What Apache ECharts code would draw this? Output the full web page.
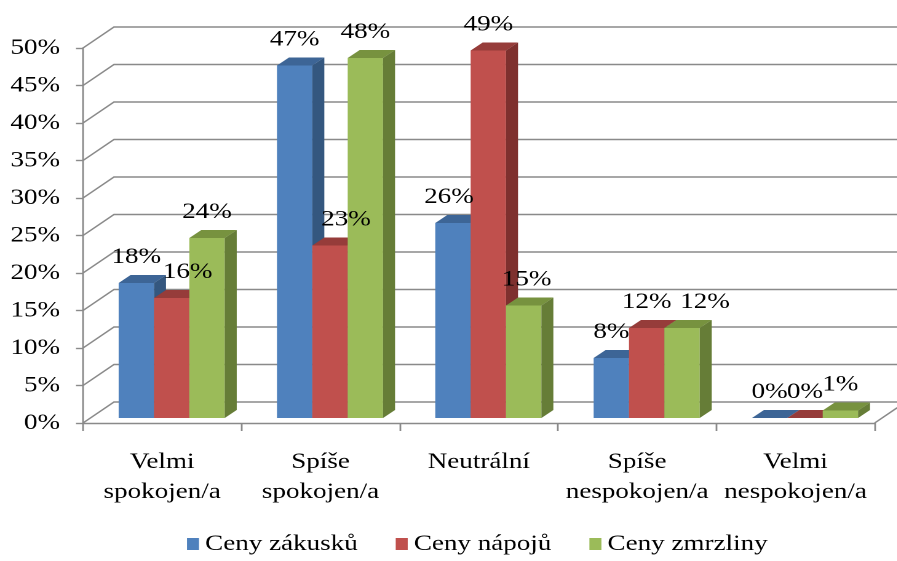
<!DOCTYPE html>
<html>
<head>
<meta charset="utf-8">
<script src="https://cdn.jsdelivr.net/npm/echarts@6/dist/echarts.min.js"></script>
<style>
  html, body { margin: 0; padding: 0; background: #fff; overflow: hidden; }
  #frame { width: 897px; height: 561px; overflow: hidden; }
  /* the chart is drawn narrower and widened, giving the wide serif lettering */
  #chart { height: 561px; transform-origin: 0 0; }
</style>
</head>
<body>
<div id="frame"><div id="chart"></div></div>
<script>
// Categories and survey results (percent)
const categories = ['Velmi\nspokojen/a', 'Spíše\nspokojen/a', 'Neutrální', 'Spíše\nnespokojen/a', 'Velmi\nnespokojen/a'];
const seriesNames = ['Ceny zákusků', 'Ceny nápojů', 'Ceny zmrzliny'];
const zakusky = [18, 47, 26, 8, 0];
const napoje = [16, 23, 49, 12, 0];
const zmrzliny = [24, 48, 15, 12, 1];
const yTicks = [0, 5, 10, 15, 20, 25, 30, 35, 40, 45, 50];

// Horizontal widening of the whole drawing
const SX = 1.23;
const WIDTH = 897, HEIGHT = 561;
const sx = v => v / SX;   // page pixels -> drawing pixels (horizontal only)

// Pseudo-3D look (in page pixels)
const WALL_DEPTH = [31, -21];   // back wall offset from the front plane
const BAR_SHIFT = [9.5, -5];    // bar front faces sit a little behind the front plane
const BAR_DEPTH = [12, -8];     // thickness of each prism
const GROUP_RATIO = 0.67;       // share of a category band used by the 3 bars
const FONT = '"Liberation Serif", "Times New Roman", serif';
const FONT_SIZE = 22;
const LINE = '#8a8a8a';

const palettes = [
  { front: '#4F81BD', top: '#3D6596', side: '#34577F' },
  { front: '#C0504D', top: '#963C3A', side: '#7E302E' },
  { front: '#9BBB59', top: '#77923F', side: '#667D37' }
];
// horizontal nudges of a few value labels so they do not collide
const labelNudges = [
  [0, 0, -4, 0, 0],
  [16, 16, 0, 0, 0],
  [0, 0, 3, 23, 0]
];

function wallRenderer(params, api) {
  const cs = params.coordSys;
  const y = api.coord([0, api.value(1)])[1];
  const left = cs.x, right = cs.x + cs.width;
  const dx = sx(WALL_DEPTH[0]), dy = WALL_DEPTH[1];
  const style = { stroke: LINE, lineWidth: 1.4, fill: null };
  const children = [{
    type: 'polyline',
    shape: { points: [[left, y], [left + dx, y + dy], [right + dx, y + dy]] },
    style: style, silent: true
  }];
  if (api.value(1) === 0) {
    children.push({
      type: 'line',
      shape: { x1: right, y1: y, x2: right + dx, y2: y + dy },
      style: style, silent: true
    });
  }
  return { type: 'group', children: children };
}

function makeBarRenderer(idx) {
  const pal = palettes[idx];
  return function (params, api) {
    const cat = api.value(0), val = api.value(1);
    const base = api.coord([cat, 0]);
    const top = api.coord([cat, val]);
    const band = api.size([1, 0])[0];
    const w = band * GROUP_RATIO / 3;
    const x0 = base[0] - band * GROUP_RATIO / 2 + idx * w + sx(BAR_SHIFT[0]);
    const yb = base[1] + BAR_SHIFT[1];
    const yt = top[1] + BAR_SHIFT[1];
    const dx = sx(BAR_DEPTH[0]), dy = BAR_DEPTH[1];
    const z = idx + 1;
    return {
      type: 'group',
      children: [
        { type: 'rect', z2: z, shape: { x: x0, y: yt, width: w, height: yb - yt },
          style: { fill: pal.front } },
        { type: 'polygon', z2: z,
          shape: { points: [[x0, yt], [x0 + w, yt], [x0 + w + dx, yt + dy], [x0 + dx, yt + dy]] },
          style: { fill: pal.top } },
        { type: 'polygon', z2: z,
          shape: { points: [[x0 + w, yt], [x0 + w + dx, yt + dy], [x0 + w + dx, yb + dy], [x0 + w, yb]] },
          style: { fill: pal.side } },
        { type: 'text', z2: 20,
          x: x0 + w / 2 + sx(labelNudges[idx][params.dataIndex]), y: yt - 26,
          style: { text: val + '%', font: FONT_SIZE + 'px ' + FONT, fill: '#000',
                   align: 'center', verticalAlign: 'middle' } }
      ]
    };
  };
}

const valueSets = [zakusky, napoje, zmrzliny];
const barSeries = valueSets.map((vals, i) => ({
  name: seriesNames[i],
  type: 'custom',
  z: 3,
  renderItem: makeBarRenderer(i),
  itemStyle: { color: palettes[i].front },
  encode: { x: 0, y: 1 },
  data: vals.map((v, j) => [j, v])
}));

const el = document.getElementById('chart');
el.style.width = sx(WIDTH) + 'px';
el.style.transform = 'scaleX(' + SX + ')';

const chart = echarts.init(el, null, { renderer: 'canvas', devicePixelRatio: 2 });
chart.setOption({
  animation: false,
  backgroundColor: '#fff',
  grid: { left: sx(83), right: sx(22), top: 48, bottom: 138, containLabel: false },
  legend: {
    data: seriesNames,
    top: 533,
    left: sx(187),
    padding: 0,
    icon: 'rect',
    itemWidth: sx(12),
    itemHeight: 12,
    itemGap: sx(38),
    textStyle: { fontFamily: FONT, fontSize: FONT_SIZE, color: '#000' }
  },
  xAxis: {
    type: 'category',
    data: categories,
    axisLine: { lineStyle: { color: LINE, width: 1.4 } },
    axisTick: { show: true, length: 8, lineStyle: { color: LINE, width: 1.4 } },
    axisLabel: { margin: 24, fontFamily: FONT, fontSize: FONT_SIZE, color: '#000', lineHeight: 30, interval: 0 },
    splitLine: { show: false }
  },
  yAxis: {
    type: 'value',
    min: 0, max: 50, interval: 5,
    axisLine: { show: true, lineStyle: { color: LINE, width: 1.4 } },
    axisTick: { show: true, length: sx(7), lineStyle: { color: LINE, width: 1.4 } },
    axisLabel: { margin: sx(23), formatter: '{value}%', fontFamily: FONT, fontSize: FONT_SIZE, color: '#000' },
    splitLine: { show: false }
  },
  series: [{
    name: 'walls',
    type: 'custom',
    z: 1,
    silent: true,
    renderItem: wallRenderer,
    encode: { x: 0, y: 1 },
    data: yTicks.map(v => [0, v])
  }].concat(barSeries)
});
</script>
</body>
</html>
